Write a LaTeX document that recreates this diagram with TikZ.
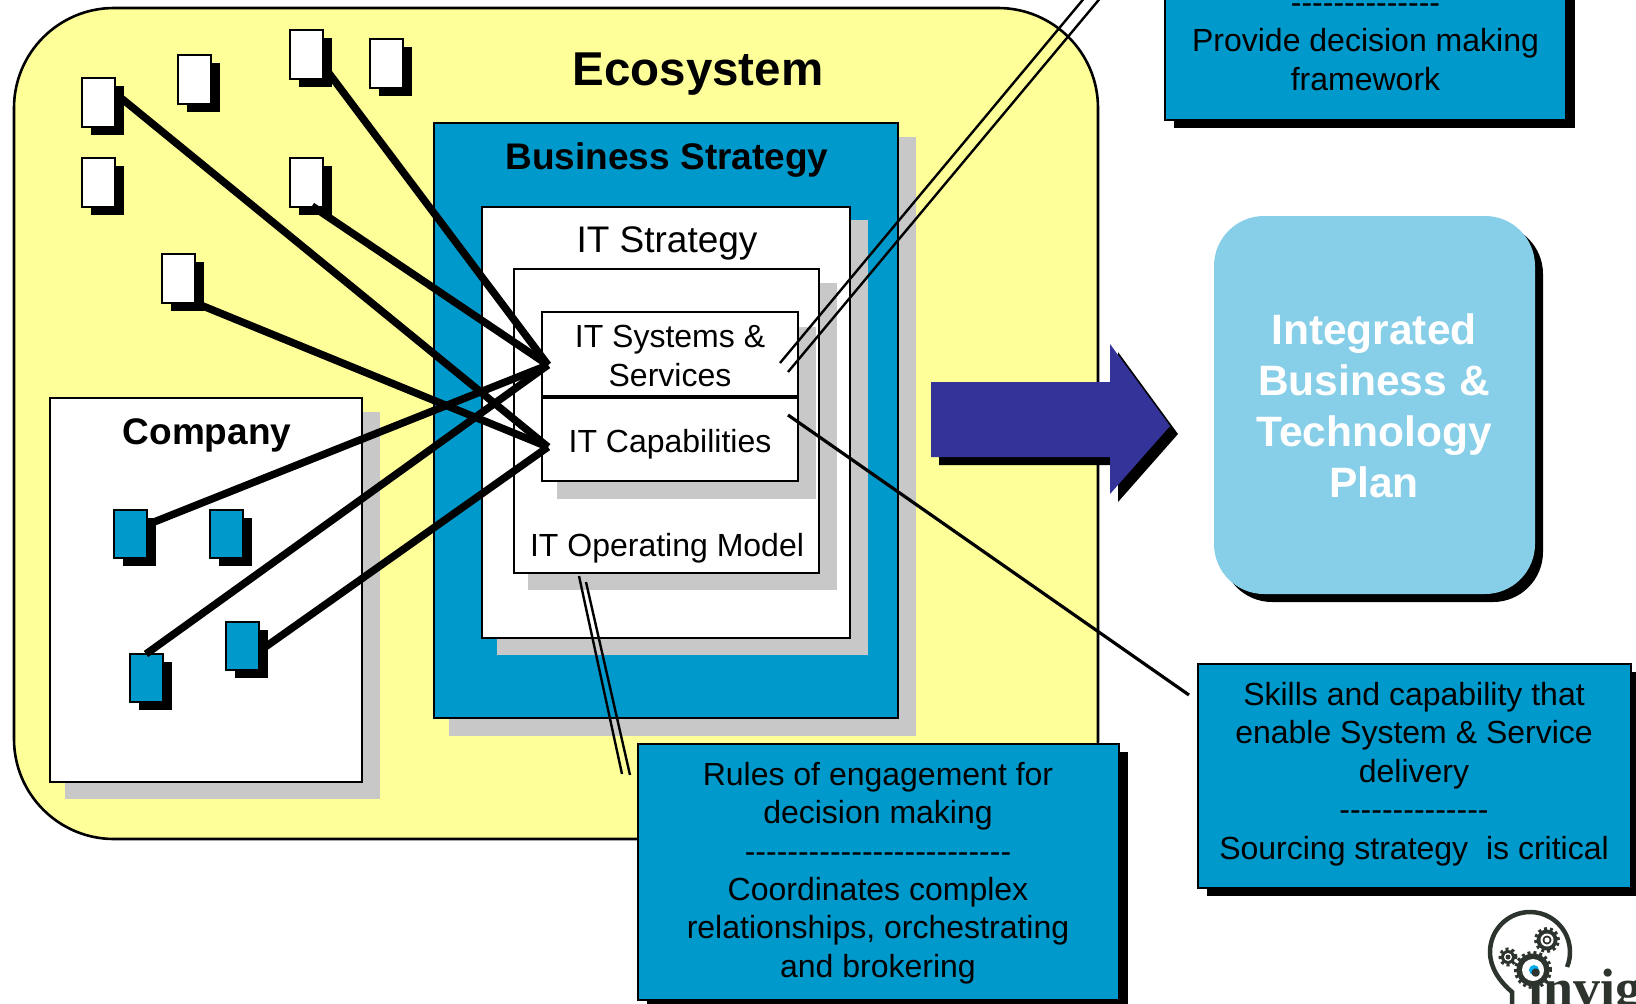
\documentclass[tikz,border=0pt]{standalone}
\usepackage{fontspec}
\setmainfont{Liberation Sans}[Ligatures=TeXOff]
\newfontfamily\logofont{Liberation Serif}
\definecolor{ecoyellow}{HTML}{FFFF99}
\definecolor{stratblue}{HTML}{0099CC}
\definecolor{shadegray}{HTML}{C8C8C8}
\definecolor{arrowblue}{HTML}{333399}
\definecolor{planblue}{HTML}{87CEE8}
\definecolor{logodark}{HTML}{2D332D}
\definecolor{logoblue}{HTML}{00AEEF}
\tikzset{
  bx/.style={draw=black,line width=2.8pt,inner sep=0pt,outer sep=0pt},
  whitebox/.style={bx,fill=white},
  bluebox/.style={bx,fill=stratblue},
  txt/.style={inner sep=0pt,align=center,text=black},
  t32/.style={txt,font=\fontsize{32}{38.4}\selectfont},
  strong/.style={line width=7.5pt,draw=black},
  thinlink/.style={line width=2.4pt,draw=black},
  gearteeth/.style={draw=logodark,line width=3pt,dash pattern=on 3pt off 3pt},
}
% \rnode{name}{x1}{y1}{x2}{y2}{style}{shadow colour}{dx}{dy}
\newcommand{\rnode}[9]{%
  \pgfmathsetmacro{\rw}{#4-#2}\pgfmathsetmacro{\rh}{#5-#3}%
  \pgfmathsetmacro{\rx}{(#2+#4)/2}\pgfmathsetmacro{\ry}{(#3+#5)/2}%
  \fill[#7] (#2+#8,#3+#9) rectangle (#4+#8,#5+#9);%
  \node[#6,minimum width=\rw pt,minimum height=\rh pt] (#1) at (\rx,\ry) {};%
}
\newcommand{\plainrect}[6]{%
  \pgfmathsetmacro{\rw}{#4-#2}\pgfmathsetmacro{\rh}{#5-#3}%
  \pgfmathsetmacro{\rx}{(#2+#4)/2}\pgfmathsetmacro{\ry}{(#3+#5)/2}%
  \node[#6,minimum width=\rw pt,minimum height=\rh pt] (#1) at (\rx,\ry) {};%
}
\begin{document}
\begin{tikzpicture}[x=1pt,y=-1pt]
\clip (0,0) rectangle (1636,1004);
\fill[white] (0,0) rectangle (1636,1004);

% ecosystem
\node[draw=black,line width=2.6pt,fill=ecoyellow,rounded corners=100pt,inner sep=0pt,minimum width=1084pt,minimum height=831pt] (eco) at (556,423.5) {};
\node[txt,font=\fontsize{47.5}{56}\selectfont\bfseries] (ecot) at (698,74) {Ecosystem};

% nested strategy boxes
\fill[shadegray] (449,137) rectangle (916,736);
\plainrect{biz}{434}{123}{898}{718}{bluebox}
\node[txt,font=\fontsize{37}{44}\selectfont\bfseries] (bizt) at (667,160) {Business Strategy};
\fill[shadegray] (497,220) rectangle (868,655);
\plainrect{its}{482}{207}{850}{638}{whitebox}
\node[txt,font=\fontsize{37}{44}\selectfont] (itst) at (667,243) {IT Strategy};
\fill[shadegray] (528,283) rectangle (837,590);
\plainrect{opm}{514}{269}{819}{573}{whitebox}
\node[t32] (opmt) at (667,548) {IT Operating Model};
\fill[shadegray] (557,327) rectangle (816,499);
\plainrect{cap}{542}{397}{798}{481}{whitebox}
\plainrect{sys}{542}{312}{798}{397}{whitebox}
\draw[line width=4.5pt,draw=black] (sys.south west) -- (sys.south east);
\node[t32] (syst) at (670,356) {IT Systems \&\\Services};
\node[t32] (capt) at (670,444) {IT Capabilities};

% company
\fill[shadegray] (65,412) rectangle (380,799);
\plainrect{comp}{50}{398}{362}{782}{whitebox}
\node[txt,font=\fontsize{37}{44}\selectfont\bfseries] (compt) at (207,435) {Company};

% small ecosystem partners
\rnode{pa}{82}{78}{115}{127}{whitebox}{black}{9}{8}
\rnode{pb}{178}{55}{211}{104}{whitebox}{black}{9}{8}
\rnode{pc}{290}{30}{323}{79}{whitebox}{black}{9}{8}
\rnode{pd}{370}{39}{403}{88}{whitebox}{black}{9}{8}
\rnode{pe}{82}{158}{115}{207}{whitebox}{black}{9}{8}
\rnode{pf}{290}{158}{323}{207}{whitebox}{black}{9}{8}
\rnode{pg}{162}{254}{195}{303}{whitebox}{black}{9}{8}
% company units
\rnode{ua}{114}{510}{147}{558}{bluebox}{black}{9}{8}
\rnode{ub}{210}{510}{243}{558}{bluebox}{black}{9}{8}
\rnode{uc}{130}{654}{163}{702}{bluebox}{black}{9}{8}
\rnode{ud}{226}{622}{259}{670}{bluebox}{black}{9}{8}

% heavy links
\coordinate (sysin) at (548,365);
\coordinate (capin) at (548,447);
\coordinate (pas) at (121,98);
\coordinate (pcs) at (325,68);
\coordinate (pfs) at (312,206);
\coordinate (pgs) at (198,304);
\coordinate (uas) at (154,522);
\coordinate (ucs) at (146,654);
\coordinate (uds) at (261,650);
\draw[strong] (pas) -- (capin);
\draw[strong] (pcs) -- (sysin);
\draw[strong] (pfs) -- (sysin);
\draw[strong] (pgs) -- (capin);
\draw[strong] (uas) -- (sysin);
\draw[strong] (ucs) -- (sysin);
\draw[strong] (uds) -- (capin);

% big arrow
\fill[black] (939,390) -- (1118,390) -- (1118,352) -- (1178,434) -- (1118,502) -- (1118,465) -- (939,465) -- cycle;
\fill[arrowblue] (931,382) -- (1110,382) -- (1110,344) -- (1170,426) -- (1110,494) -- (1110,457) -- (931,457) -- cycle;

% plan box
\fill[black,rounded corners=50pt] (1222,224) rectangle (1543,602);
\node[fill=planblue,rounded corners=50pt,inner sep=0pt,minimum width=321pt,minimum height=378pt] (plan) at (1374.5,405) {};
\node[txt,text=white,font=\fontsize{42.5}{51}\selectfont\bfseries] (plant) at (1374,405.5) {Integrated\\Business \&\\Technology\\Plan};

% thin callout lines
\coordinate (ta) at (780,363);
\coordinate (tb) at (788,372);
\coordinate (tae) at (1086,-4);
\coordinate (tbe) at (1102,-4);
\coordinate (ca) at (788,415);
\coordinate (cae) at (1189,695);
\coordinate (oa) at (579,576);
\coordinate (ob) at (586,582);
\coordinate (oae) at (622,774);
\coordinate (obe) at (630,775);
\draw[thinlink] (ta) -- (tae);
\draw[thinlink] (tb) -- (tbe);
\draw[thinlink,line width=3.2pt] (ca) -- (cae);
\draw[thinlink] (oa) -- (oae);
\draw[thinlink] (ob) -- (obe);

% callouts
\rnode{topbox}{1165}{-60}{1566}{120}{bluebox}{black}{9}{8}
\node[t32] (topt) at (1365.5,47) {--------------\\Provide decision making\\framework};
\rnode{rulebox}{638}{744}{1119}{1000}{bluebox}{black}{9}{8}
\node[t32] (rulet) at (878,873) {Rules of engagement for\\decision making\\-------------------------\\Coordinates complex\\relationships, orchestrating\\and brokering};
\rnode{skillbox}{1198}{664}{1631}{888}{bluebox}{black}{9}{8}
\node[t32] (skillt) at (1414,774) {Skills and capability that\\enable System \& Service\\delivery\\--------------\\Sourcing strategy\ \ is critical};

% logo
\draw[draw=logodark,line width=4.5pt] (1512,1004) -- (1512,992) .. controls (1500,982) and (1490,968) .. (1490,952) arc[start angle=180,end angle=-22,radius=40pt];
\draw[gearteeth] (1547,940) circle[radius=11.5pt];
\fill[logodark] (1547,940) circle[radius=10.5pt];
\fill[white] (1547,940) circle[radius=6.5pt];
\fill[logodark] (1547,940) circle[radius=4.5pt];
\fill[white] (1547,940) circle[radius=2.5pt];
\draw[gearteeth] (1508,957) circle[radius=8pt];
\fill[logodark] (1508,957) circle[radius=7pt];
\fill[white] (1508,957) circle[radius=4pt];
\fill[logodark] (1508,957) circle[radius=2.5pt];
\draw[gearteeth] (1533,970) circle[radius=17.5pt];
\fill[logodark] (1533,970) circle[radius=16.5pt];
\fill[white] (1533,970) circle[radius=11pt];
\fill[logoblue] (1534,970) circle[radius=5pt];
\node[inner sep=0pt,anchor=base west,text=logodark,font=\fontsize{54}{60}\selectfont\logofont\bfseries] (logot) at (1528,1006) {invig};
\end{tikzpicture}
\end{document}
